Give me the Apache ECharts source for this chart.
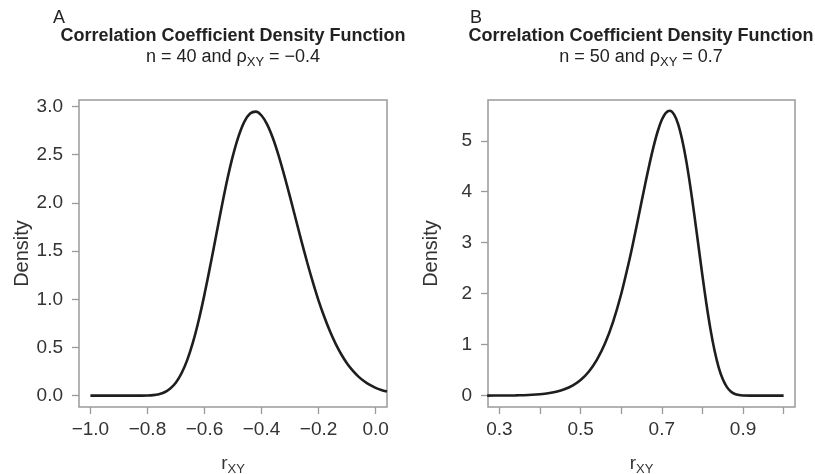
<!DOCTYPE html>
<html>
<head>
<meta charset="utf-8">
<script src="https://cdn.jsdelivr.net/npm/echarts@6/dist/echarts.min.js"></script>
<style>
  html, body { margin: 0; padding: 0; background: #fff; }
  #chart { width: 815px; height: 474px; }
</style>
</head>
<body>
<div id="chart"></div>
<script>
// panel A: n = 40, rho = -0.4
const rA = [-1.00, -0.96, -0.92, -0.88, -0.84, -0.82, -0.80, -0.78, -0.76, -0.74, -0.72, -0.70,
  -0.68, -0.66, -0.64, -0.62, -0.60, -0.58, -0.56, -0.54, -0.52, -0.50, -0.48, -0.46, -0.44,
  -0.42, -0.40, -0.38, -0.36, -0.34, -0.32, -0.30, -0.28, -0.26, -0.24, -0.22, -0.20, -0.18,
  -0.16, -0.14, -0.12, -0.10, -0.08, -0.06, -0.04, -0.02, 0.00, 0.02, 0.04];
const densA = [0, 0, 0, 0, 0.0001, 0.0004, 0.0017, 0.0055, 0.015, 0.035, 0.074, 0.137,
  0.235, 0.374, 0.557, 0.785, 1.051, 1.344, 1.650, 1.955, 2.243, 2.493, 2.696, 2.844, 2.927,
  2.947, 2.907, 2.813, 2.671, 2.491, 2.284, 2.062, 1.833, 1.604, 1.384, 1.177, 0.986, 0.818,
  0.667, 0.537, 0.427, 0.334, 0.259, 0.197, 0.149, 0.111, 0.081, 0.059, 0.042];

// panel B: n = 50, rho = 0.7
const rB = [0.27, 0.30, 0.32, 0.34, 0.36, 0.38, 0.40, 0.42, 0.44, 0.46, 0.48, 0.50, 0.52, 0.54,
  0.56, 0.58, 0.60, 0.62, 0.63, 0.64, 0.65, 0.66, 0.67, 0.68, 0.69, 0.70, 0.71, 0.72, 0.73,
  0.74, 0.75, 0.76, 0.77, 0.78, 0.79, 0.80, 0.81, 0.82, 0.83, 0.84, 0.85, 0.86, 0.87, 0.88,
  0.89, 0.90, 0.92, 0.96, 1.00];
const densB = [0.001, 0.002, 0.003, 0.005, 0.009, 0.016, 0.028, 0.046, 0.077, 0.124, 0.197,
  0.307, 0.469, 0.702, 1.022, 1.448, 1.994, 2.656, 3.022, 3.407, 3.798, 4.185, 4.556, 4.896,
  5.187, 5.411, 5.549, 5.589, 5.518, 5.333, 5.024, 4.616, 4.115, 3.550, 2.955, 2.356, 1.793,
  1.295, 0.879, 0.556, 0.324, 0.172, 0.081, 0.033, 0.012, 0.003, 0.0001, 0, 0];

const xTicksA = [-1.0, -0.8, -0.6, -0.4, -0.2, 0.0];
const yTicksA = [0, 0.5, 1.0, 1.5, 2.0, 2.5, 3.0];
const xTicksB = [0.3, 0.4, 0.5, 0.6, 0.7, 0.8, 0.9, 1.0];
const xLabelsB = [0.3, 0.5, 0.7, 0.9];
const yTicksB = [0, 1, 2, 3, 4, 5];

const font = 'Liberation Sans';
const gray = '#9a9a9a';
const minus = s => s.replace('-', '\u2212');

function xAxis(idx, min, max, ticks, labels, digits) {
  return {
    type: 'value', gridIndex: idx, min: min, max: max,
    axisLine: { show: false, onZero: false },
    splitLine: { show: false },
    axisTick: { show: true, length: 7, customValues: ticks, lineStyle: { color: gray, width: 1.3 } },
    axisLabel: {
      customValues: labels, margin: 13, fontFamily: font, fontSize: 19, color: '#333',
      formatter: v => minus(v.toFixed(digits))
    },
    name: '{r|r}{s|XY}', nameLocation: 'middle', nameGap: 45,
    nameTextStyle: {
      rich: {
        r: { fontFamily: font, fontSize: 19, color: '#333', lineHeight: 24, verticalAlign: 'middle' },
        s: { fontFamily: font, fontSize: 13, color: '#333', lineHeight: 12, verticalAlign: 'bottom' }
      }
    }
  };
}

function yAxis(idx, min, max, ticks, digits) {
  return {
    type: 'value', gridIndex: idx, min: min, max: max,
    axisLine: { show: false, onZero: false },
    splitLine: { show: false },
    axisTick: { show: true, length: 7, customValues: ticks, lineStyle: { color: gray, width: 1.3 } },
    axisLabel: {
      customValues: ticks, margin: 16, fontFamily: font, fontSize: 19, color: '#333',
      formatter: v => v.toFixed(digits)
    },
    name: 'Density', nameLocation: 'middle', nameGap: 47,
    nameTextStyle: { fontFamily: font, fontSize: 20, color: '#333' }
  };
}

function titleText(x, main, sub) {
  return [
    { type: 'text', x: x, y: 36, style: { text: main, fontFamily: font, fontSize: 18, fontWeight: 'bold',
      fill: '#222', align: 'center', verticalAlign: 'middle' } },
    { type: 'text', x: x, y: 57, style: {
      text: sub, align: 'center', verticalAlign: 'middle',
      rich: {
        a: { fontFamily: font, fontSize: 18, fill: '#222', lineHeight: 24, verticalAlign: 'middle' },
        s: { fontFamily: font, fontSize: 13, fill: '#222', lineHeight: 12, verticalAlign: 'bottom' }
      } } }
  ];
}

const chart = echarts.init(document.getElementById('chart'));
chart.setOption({
  backgroundColor: '#fff',
  animation: false,
  grid: [
    { left: 79, top: 100, width: 308, height: 307, outerBoundsMode: 'none',
      show: true, borderColor: gray, borderWidth: 1.5 },
    { left: 488, top: 100, width: 307, height: 307, outerBoundsMode: 'none',
      show: true, borderColor: gray, borderWidth: 1.5 }
  ],
  xAxis: [
    xAxis(0, -1.04, 0.04, xTicksA, xTicksA, 1),
    xAxis(1, 0.272, 1.028, xTicksB, xLabelsB, 1)
  ],
  yAxis: [
    yAxis(0, -0.118, 3.068, yTicksA, 1),
    yAxis(1, -0.223, 5.8, yTicksB, 0)
  ],
  series: [
    { type: 'line', xAxisIndex: 0, yAxisIndex: 0, showSymbol: false, smooth: 0.3, clip: true,
      lineStyle: { color: '#1e1e1e', width: 2.6 },
      data: rA.map((r, i) => [r, densA[i]]) },
    { type: 'line', xAxisIndex: 1, yAxisIndex: 1, showSymbol: false, smooth: 0.3, clip: true,
      lineStyle: { color: '#1e1e1e', width: 2.6 },
      data: rB.map((r, i) => [r, densB[i]]) }
  ],
  graphic: [
    { type: 'text', x: 59, y: 18, style: { text: 'A', fontFamily: font, fontSize: 18, fill: '#222',
      align: 'center', verticalAlign: 'middle' } },
    { type: 'text', x: 476, y: 18, style: { text: 'B', fontFamily: font, fontSize: 18, fill: '#222',
      align: 'center', verticalAlign: 'middle' } },
    ...titleText(233, 'Correlation Coefficient Density Function', '{a|n = 40 and \u03C1}{s|XY}{a| = \u22120.4}'),
    ...titleText(641, 'Correlation Coefficient Density Function', '{a|n = 50 and \u03C1}{s|XY}{a| = 0.7}')
  ]
});
</script>
</body>
</html>
